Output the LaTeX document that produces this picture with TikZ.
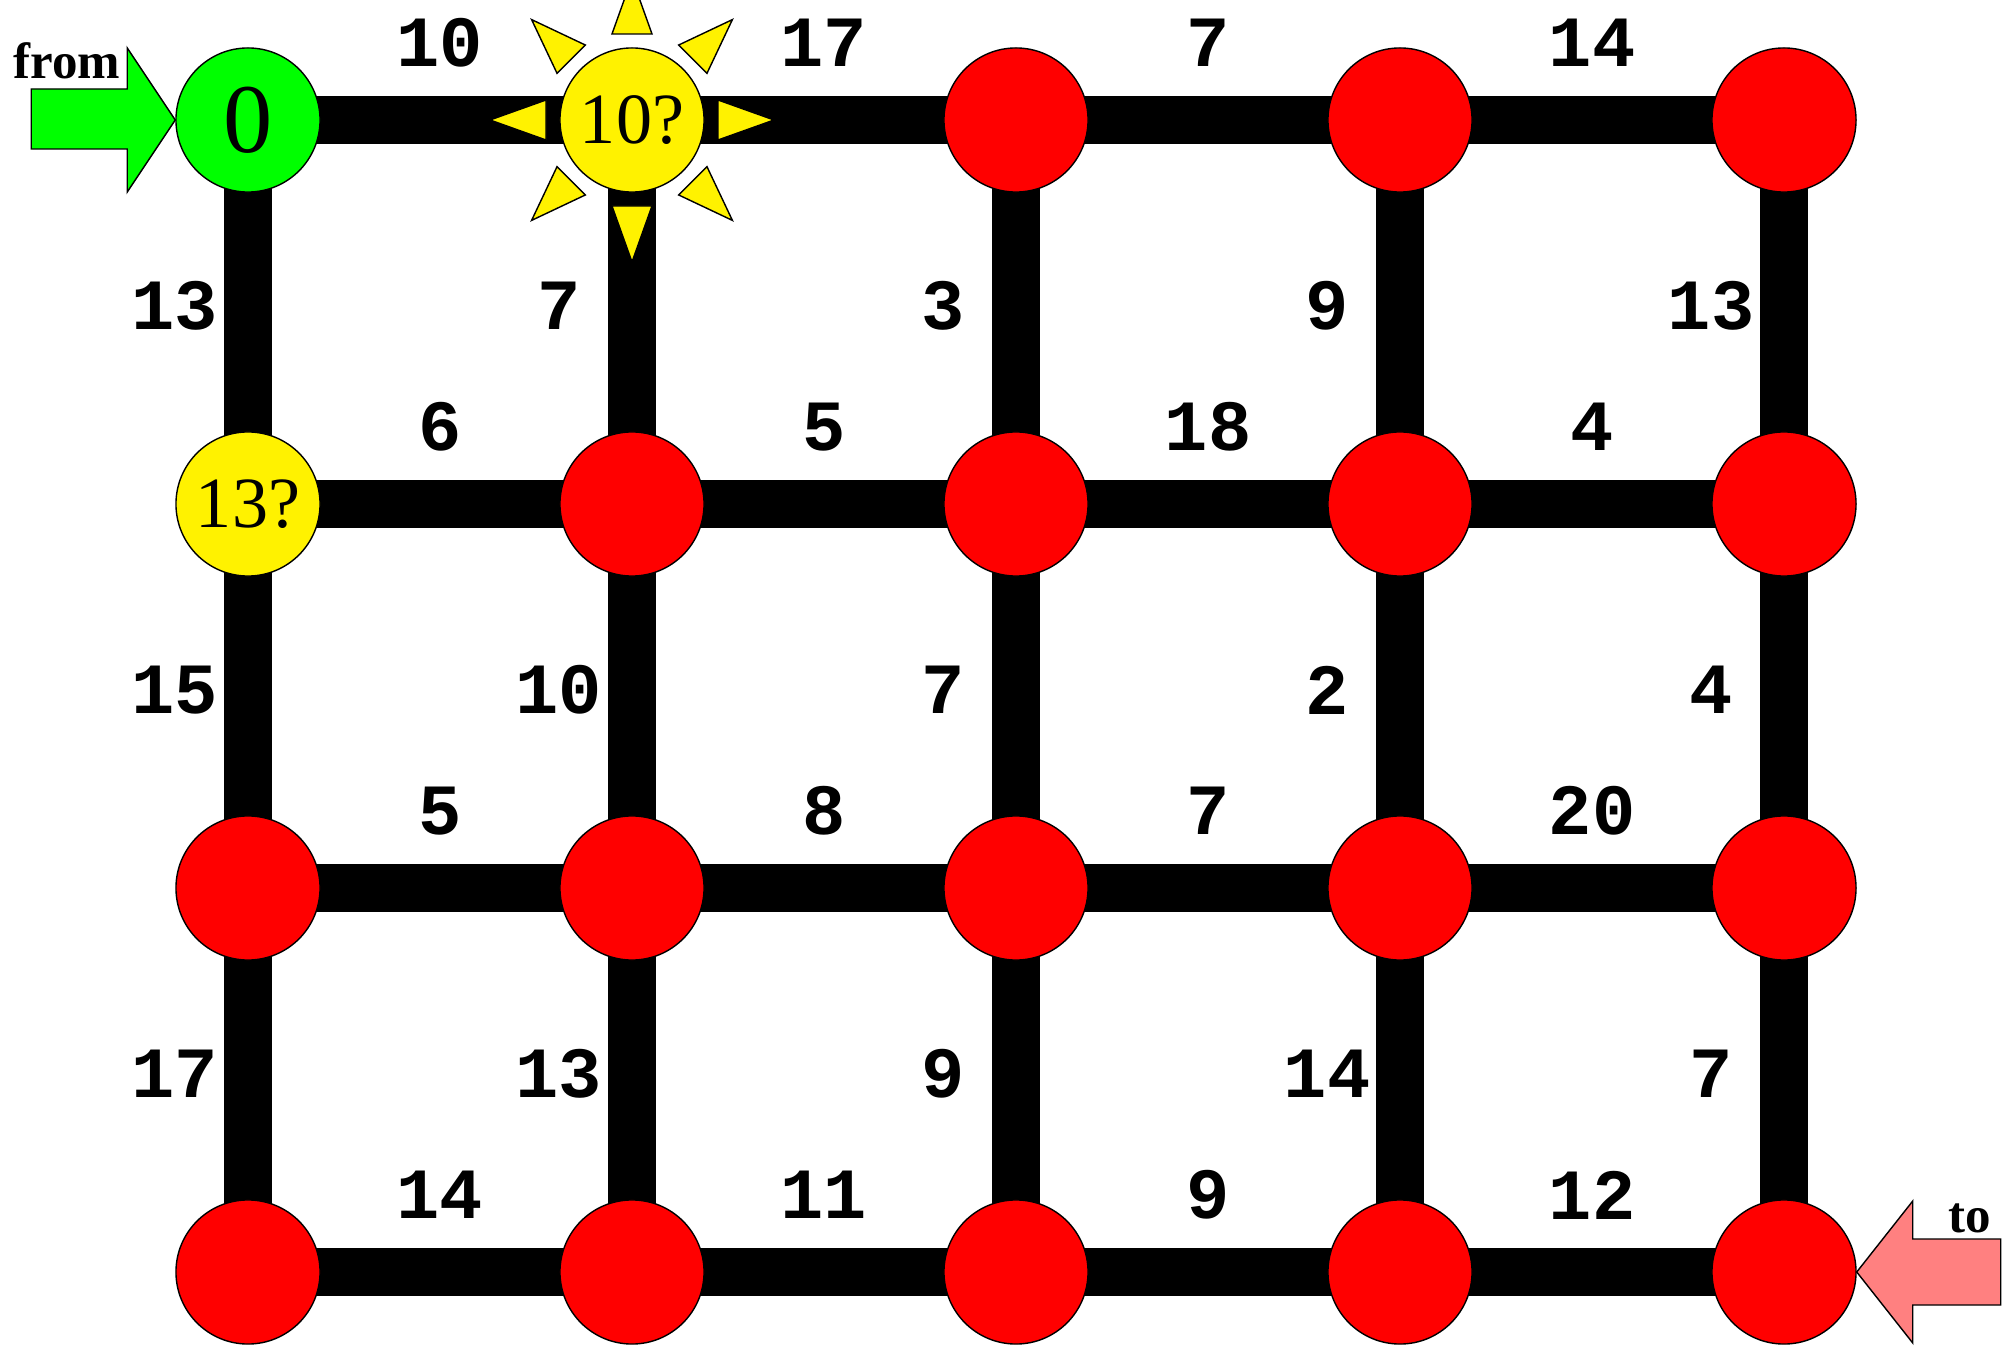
\documentclass[tikz,border=0pt]{standalone}
\usepackage{fontspec}
\setmainfont{Liberation Serif}
\newfontfamily\labelfont{Liberation Mono}
\usetikzlibrary{backgrounds}
\begin{document}
\begin{tikzpicture}[x=0.01cm,y=-0.01cm,
  vertex/.style={circle,draw=black,line width=0.4pt,minimum size=1.44cm,inner sep=0pt},
  road/.style={line width=0.48cm,draw=black},
  wlabel/.style={font=\labelfont\bfseries\fontsize{20.5}{24}\selectfont,inner sep=0pt},
  ray/.style={fill=yellow,draw=black,line width=0.4pt},
  bigarrow/.style={draw=black,line width=0.4pt},
  endlabel/.style={font=\bfseries\fontsize{14.5}{17}\selectfont,inner sep=0pt}]
\useasboundingbox (0,0) rectangle (2008,1346);

% nodes
\node[vertex,fill=green,font=\fontsize{28}{30}\selectfont] (n00) at (248,120) {0};
\node[vertex,fill=yellow,font=\fontsize{20.5}{24}\selectfont] (n10) at (632,120) {10?};
\node[vertex,fill=yellow,font=\fontsize{20.5}{24}\selectfont] (n01) at (248,504) {13?};
\foreach \i/\j in {2/0,3/0,4/0,1/1,2/1,3/1,4/1,0/2,1/2,2/2,3/2,4/2,0/3,1/3,2/3,3/3,4/3}
  \node[vertex,fill=red] (n\i\j) at ({248+384*\i},{120+384*\j}) {};

% roads
\begin{scope}[on background layer]
\foreach \j in {0,1,2,3}{
  \foreach \i/\k in {0/1,1/2,2/3,3/4}{
    \draw[road] (n\i\j.center) -- (n\k\j.center);
  }
}
\foreach \i in {0,1,2,3,4}{
  \foreach \j/\k in {0/1,1/2,2/3}{
    \draw[road] (n\i\j.center) -- (n\i\k.center);
  }
}
\end{scope}

% weights
\foreach \i/\j/\w in {0/0/10,1/0/17,2/0/7,3/0/14,
                      0/1/6,1/1/5,2/1/18,3/1/4,
                      0/2/5,1/2/8,2/2/7,3/2/20,
                      0/3/14,1/3/11,2/3/9,3/3/12}
  \node[wlabel] (h\i\j) at ({440+384*\i},{43+384*\j}) {\w};
\foreach \i/\j/\w in {0/0/13,1/0/7,2/0/3,3/0/9,4/0/13,
                      0/1/15,1/1/10,2/1/7,3/1/2,4/1/4,
                      0/2/17,1/2/13,2/2/9,3/2/14,4/2/7}
  \node[wlabel] (v\i\j) at ({175+384*\i},{306+384*\j}) {\w};

% sun rays
\foreach \a in {0,45,...,315}
  \draw[ray] ([shift={(\a+13.1:88.3)}]n10.center) -- ([shift={(\a:142)}]n10.center)
             -- ([shift={(\a-13.1:88.3)}]n10.center) -- cycle;

% start arrow
\draw[bigarrow,fill=green] (n00.west) -- ++(-48,-72) -- ++(0,41) -- ++(-96,0)
  -- ++(0,60) -- ++(96,0) -- ++(0,43) -- cycle;
\node[endlabel,anchor=base west] (from) at (13,79) {from};

% end arrow
\draw[bigarrow,fill={rgb,255:red,255;green,128;blue,128}] (n43.east) -- ++(56,-71) -- ++(0,38)
  -- ++(88,0) -- ++(0,66) -- ++(-88,0) -- ++(0,38) -- cycle;
\node[endlabel,anchor=base east] (to) at (1992,1232) {to};
\end{tikzpicture}
\end{document}
